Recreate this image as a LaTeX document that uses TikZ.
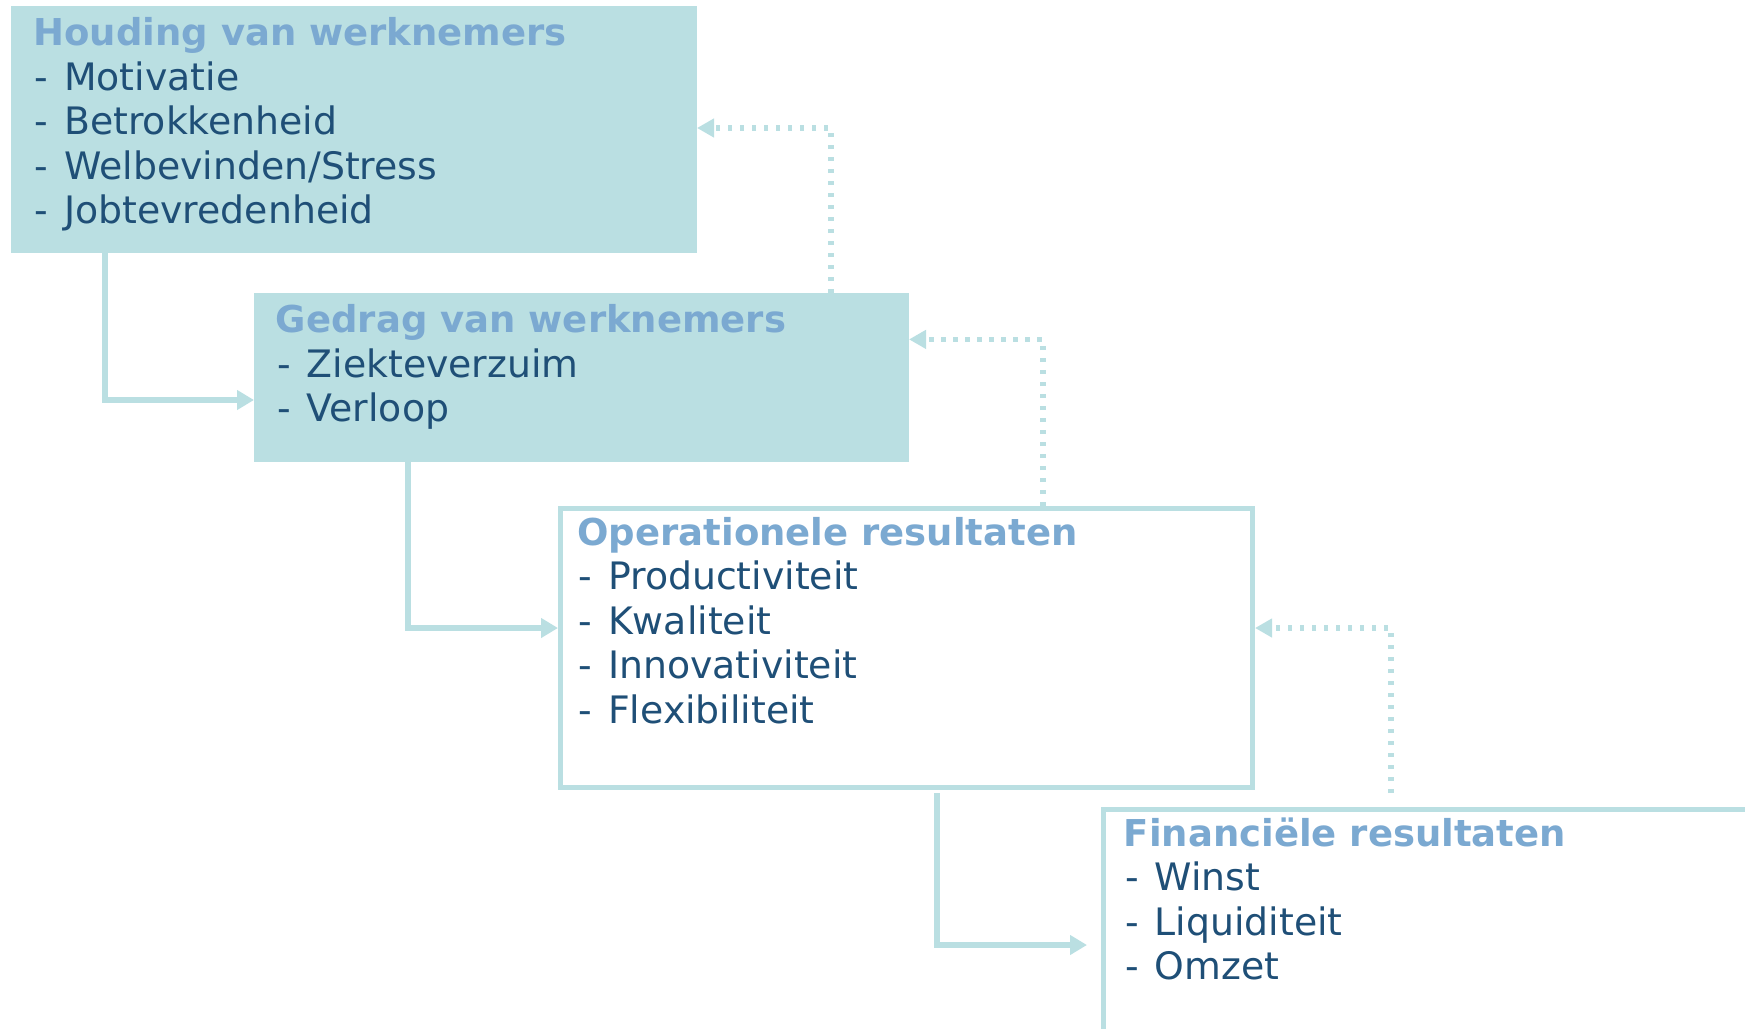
\documentclass[tikz,border=0pt]{standalone}
\usepackage{fontspec}
\setmainfont{DejaVu Sans}
\usetikzlibrary{arrows.meta,calc}
\definecolor{boxfill}{HTML}{BADFE2}
\definecolor{titlecol}{HTML}{7BA9D1}
\definecolor{bodycol}{HTML}{1F4F77}
\definecolor{linecol}{HTML}{BADFE2}
\newcommand{\itemdash}{-\hspace{1.8pt} }
\begin{document}
\begin{tikzpicture}[x=0.5pt,y=-0.5pt,
  filledbox/.style={rectangle, fill=boxfill, draw=none, inner sep=0pt, outer sep=0pt, anchor=north west},
  openbox/.style={rectangle, draw=linecol, line width=2.5pt, fill=white, inner sep=0pt, anchor=north west},
  ttl/.style={anchor=base west, inner sep=0pt, text=titlecol, font=\fontsize{18.5}{22}\selectfont\bfseries},
  itm/.style={anchor=base west, inner sep=0pt, text=bodycol, font=\fontsize{18.9}{22}\selectfont},
  conn/.style={draw=linecol, line width=3pt, -{Triangle[length=8.5pt,width=9.5pt]}},
  fb/.style={draw=linecol, line width=2.75pt, dash pattern=on 2.25pt off 3.75pt, -{Triangle[length=8.5pt,width=9pt]}}
]
\useasboundingbox (0,0) rectangle (1745,1028);
\clip (0,0) rectangle (1745,1028);

% boxes
\node[filledbox, minimum width=343pt, minimum height=123.5pt] (b1) at (11,6) {};
\node[filledbox, minimum width=327.5pt, minimum height=84.5pt] (b2) at (254,293) {};
\node[openbox, minimum width=346pt, minimum height=139.5pt] (b3) at (558,506) {};
\node[openbox, minimum width=360pt, minimum height=150pt] (b4) at (1101,807) {};

% bend coordinates
\coordinate (k1) at (104.6,400);
\coordinate (k2) at (408.4,628);
\coordinate (k3) at (937,945);
\coordinate (d1) at (831,128);
\coordinate (d2) at (1043,339.4);
\coordinate (d3) at (1391,628);

% solid connectors
\draw[conn] (b1.south -| k1) |- (b2.west |- k1);
\draw[conn] (b2.south -| k2) |- (b3.west |- k2);
\draw[conn] ($(b3.south -| k3)+(0,3)$) |- ($(b4.west |- k3)-(14,0)$);

% dotted feedback connectors
\draw[fb] (b2.north -| d1) |- (b1.east |- d1);
\draw[fb] (b3.north -| d2) |- (b2.east |- d2);
\draw[fb] ($(b4.north -| d3)-(0,14)$) |- (b3.east |- d3);

% texts box 1
\node[ttl] (t1) at (33,45) {Houding van werknemers};
\node[itm] (t1a) at (34.5,90) {\itemdash Motivatie};
\node[itm] (t1b) at (34.5,134.5) {\itemdash Betrokkenheid};
\node[itm] (t1c) at (34.5,179) {\itemdash Welbevinden/Stress};
\node[itm] (t1d) at (34.5,223.5) {\itemdash Jobtevredenheid};

% texts box 2
\node[ttl] (t2) at (275.5,332) {Gedrag van werknemers};
\node[itm] (t2a) at (277,377) {\itemdash Ziekteverzuim};
\node[itm] (t2b) at (277,421) {\itemdash Verloop};

% texts box 3
\node[ttl] (t3) at (577,545) {Operationele resultaten};
\node[itm] (t3a) at (578.5,589.5) {\itemdash Productiviteit};
\node[itm] (t3b) at (578.5,634) {\itemdash Kwaliteit};
\node[itm] (t3c) at (578.5,678.5) {\itemdash Innovativiteit};
\node[itm] (t3d) at (578.5,723) {\itemdash Flexibiliteit};

% texts box 4
\node[ttl] (t4) at (1123.5,846) {Financiële resultaten};
\node[itm] (t4a) at (1125,890.5) {\itemdash Winst};
\node[itm] (t4b) at (1125,935) {\itemdash Liquiditeit};
\node[itm] (t4c) at (1125,979.5) {\itemdash Omzet};
\end{tikzpicture}
\end{document}
